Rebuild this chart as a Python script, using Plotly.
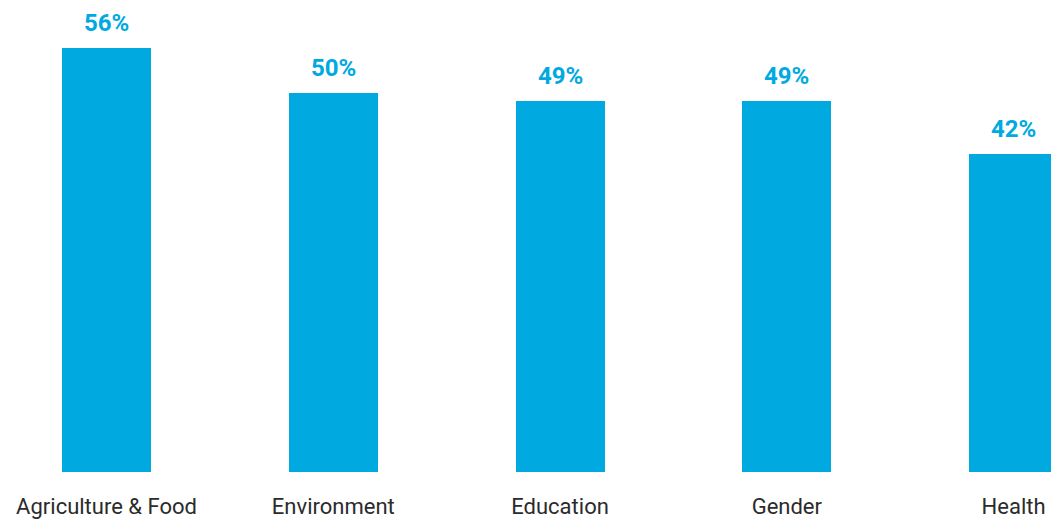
import plotly.graph_objects as go

categories = ["Agriculture & Food", "Environment", "Education", "Gender", "Health"]
shares = [56, 50, 49, 49, 42]
value_labels = [f"{v}%" for v in shares]

BLUE = "#00a9e0"

fig = go.Figure(
    go.Bar(
        x=categories,
        y=shares,
        marker=dict(color=BLUE, line=dict(width=0)),
        width=0.3925,
        hoverinfo="skip",
    )
)

# value labels above each bar
for cat, v, lab in zip(categories, shares, value_labels):
    fig.add_annotation(
        x=cat, y=v, text=f"<b>{lab}</b>", showarrow=False,
        yanchor="bottom", yshift=9,
        font=dict(family="Roboto", size=24, color=BLUE),
    )

fig.update_layout(
    width=1051, height=521,
    margin=dict(l=0, r=0, t=0, b=49, autoexpand=False),
    paper_bgcolor="white", plot_bgcolor="white",
    showlegend=False,
    bargap=0,
    xaxis=dict(
        range=[-0.4697, 4.165], automargin=False,
        showgrid=False, zeroline=False, showline=False,
        ticks="outside", ticklen=15, tickcolor="rgba(0,0,0,0)",
        tickfont=dict(family="Roboto", size=22, color="#2b2b2b"),
    ),
    yaxis=dict(
        range=[0, 62.34], visible=False, showgrid=False, zeroline=False,
        automargin=False,
    ),
)

fig.write_html("out.html")
